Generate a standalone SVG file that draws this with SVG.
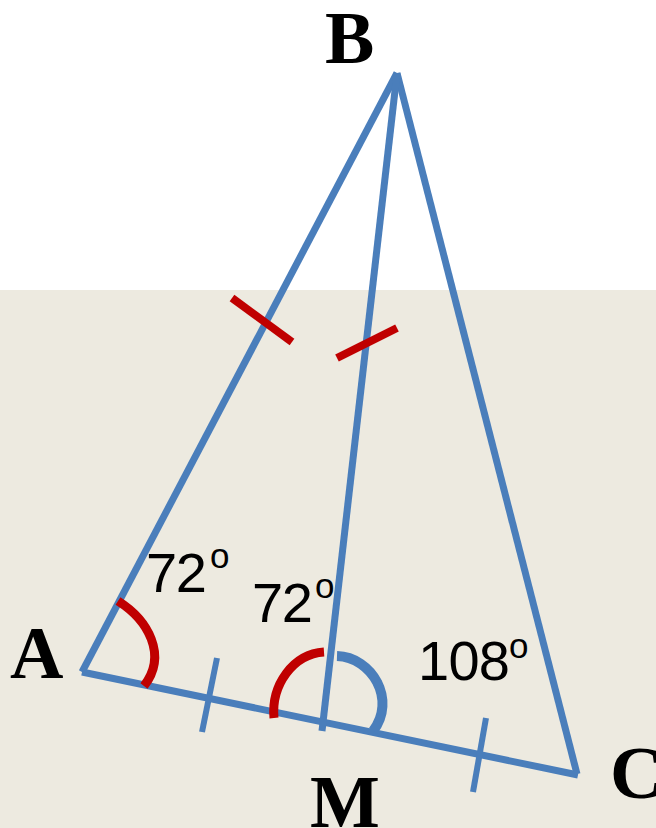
<svg xmlns="http://www.w3.org/2000/svg" width="656" height="828" viewBox="0 0 656 828">
<style>
.edge{stroke:#4A7EBB;stroke-width:7;fill:none;stroke-linecap:butt}
.tick{stroke:#4A7EBB;stroke-width:6;fill:none}
.rtick{stroke:#C00000;stroke-width:8;fill:none}
.rarc{stroke:#C00000;stroke-width:9;fill:none}
.barc{stroke:#4A7EBB;stroke-width:10;fill:none}
.lbl{font-family:"Liberation Serif","Times New Roman",serif;font-weight:bold;font-size:74px;fill:#000}
.ang{font-family:"Liberation Sans",Arial,sans-serif;font-size:56px;fill:#000}
.deg{font-family:"Liberation Sans",Arial,sans-serif;font-size:35px;fill:#000}
</style>
<rect x="0" y="0" width="656" height="828" fill="#FFFFFF"/>
<rect x="0" y="290" width="656" height="538" fill="#EDEAE0"/>
<g id="connectors">
<line class="edge" x1="82" y1="672" x2="397" y2="73"/>
<line class="edge" x1="397" y1="73" x2="577" y2="774"/>
<line class="edge" x1="82" y1="672" x2="578" y2="775"/>
<line class="edge" x1="397" y1="73" x2="322" y2="731"/>
<line class="tick" x1="217" y1="658" x2="202" y2="732"/>
<line class="tick" x1="486" y1="718" x2="473" y2="792"/>
<line class="rtick" x1="232" y1="298" x2="292" y2="342"/>
<line class="rtick" x1="337" y1="358" x2="397" y2="328"/>
<path class="rarc" d="M118,601 C148,620 168,655 144,686"/>
<path class="rarc" d="M324,652 C293,654 271,685 274,718"/>
<path class="barc" d="M337,656 C372,657 397,700 373,731"/>
</g>
<g id="A"><text class="lbl" x="10" y="678">A</text></g>
<g id="B"><text class="lbl" x="325" y="63">B</text></g>
<g id="C"><text class="lbl" x="610" y="798">C</text></g>
<g id="M"><text class="lbl" x="310" y="827">M</text></g>
<g id="angleA"><text class="ang" x="146" y="592" textLength="61">72</text><text class="deg" x="210" y="568">o</text></g>
<g id="angleM1"><text class="ang" x="252" y="622" textLength="61">72</text><text class="deg" x="315" y="598">o</text></g>
<g id="angleM2"><text class="ang" x="418" y="680" textLength="92">108</text><text class="deg" x="509" y="658">o</text></g>
</svg>
